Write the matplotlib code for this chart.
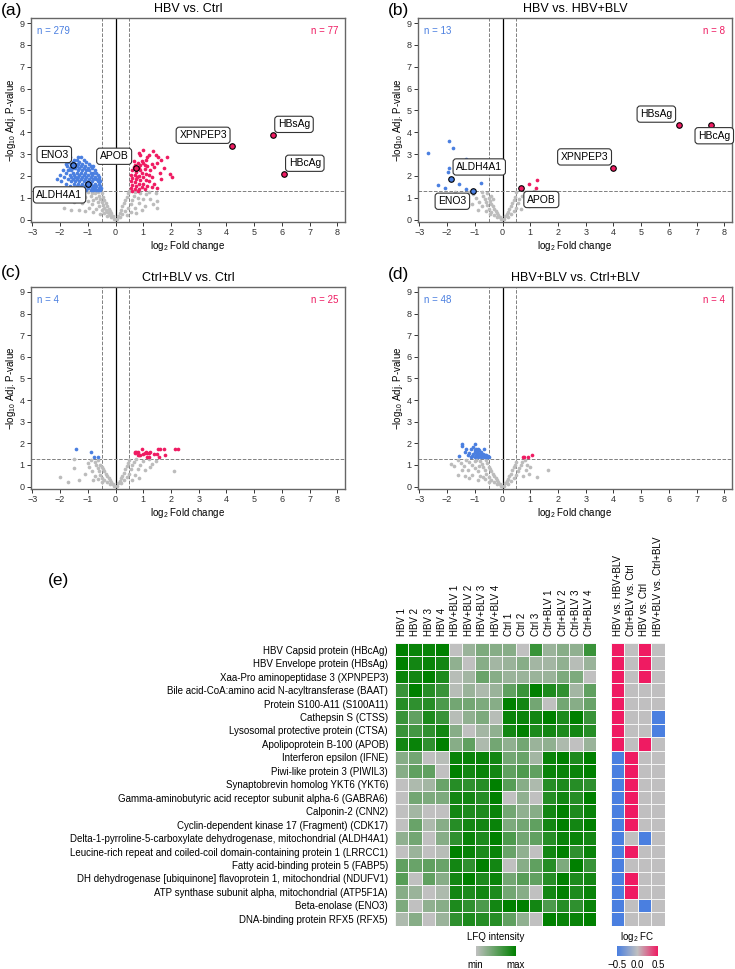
import matplotlib
matplotlib.use("Agg")
import matplotlib.pyplot as plt
import numpy as np
from matplotlib.colors import LinearSegmentedColormap

plt.rcParams['font.family'] = ['Liberation Sans', 'DejaVu Sans']
plt.rcParams['mathtext.default'] = 'regular'

# ---------------- data: volcano plots ----------------
grey_a = [(-0.05,0.05),(-0.1,0.15),(-0.15,0.3),(-0.2,0.4),(-0.25,0.5),(-0.3,0.6),(-0.35,0.75),(-0.4,0.9),(-0.45,1.05),(-0.5,1.2),
          (-0.15,0.1),(-0.2,0.2),(-0.25,0.3),(-0.3,0.35),(-0.35,0.45),(-0.4,0.55),(-0.45,0.65),(-0.5,0.8),(-0.55,0.95),(-0.6,1.1),
          (-0.3,0.15),(-0.4,0.3),(-0.5,0.45),(-0.6,0.6),(-0.65,0.8),(-0.7,1.0),(-0.75,1.2),(-0.8,0.9),(-0.9,1.1),(-1.0,1.25),
          (-0.7,0.5),(-0.85,0.7),(-1.0,0.85),(-1.1,1.05),(-1.2,1.2),(-1.3,1.15),(-1.5,1.25),(-1.4,1.0),(-1.2,0.75),(-0.95,0.55),
          (-1.6,0.45),(-1.3,0.45),(-1.85,0.55),(-1.1,0.4),(-0.55,0.25),(-1.7,1.2),(-0.85,1.2),(-0.65,1.25),(-0.8,0.35),(-1.5,0.8),
          (0.05,0.05),(0.1,0.15),(0.15,0.3),(0.2,0.45),(0.25,0.6),(0.3,0.75),(0.35,0.9),(0.4,1.05),(0.45,1.2),(0.5,1.3),
          (0.15,0.1),(0.25,0.25),(0.35,0.4),(0.45,0.55),(0.55,0.7),(0.6,0.9),(0.65,1.1),(0.7,1.25),(0.8,1.0),(0.9,1.2),
          (0.4,0.2),(0.55,0.35),(0.7,0.55),(0.85,0.75),(1.0,0.95),(1.1,1.15),(1.2,1.25),(0.95,0.45),(1.5,0.85),(1.35,0.7),
          (1.5,0.55),(1.25,0.95),(1.45,1.2),(0.75,0.3),(1.05,0.6)]
blue_a = [(-1.65,2.85),(-1.35,2.85),(-1.25,2.85),
          (-1.5,2.75),(-1.4,2.75),(-1.15,2.75),
          (-1.7,2.65),(-1.55,2.65),(-1.3,2.65),(-1.05,2.65),
          (-1.8,2.55),(-1.6,2.55),(-1.45,2.55),(-1.35,2.55),(-1.2,2.55),(-0.95,2.55),
          (-1.75,2.45),(-1.5,2.45),(-1.4,2.45),(-1.25,2.45),(-1.1,2.45),(-0.9,2.45),(-0.8,2.45),
          (-1.65,2.35),(-1.55,2.35),(-1.45,2.35),(-1.3,2.35),(-1.15,2.35),(-1.0,2.35),(-0.85,2.35),
          (-1.9,2.25),(-1.7,2.25),(-1.6,2.25),(-1.35,2.25),(-1.2,2.25),(-1.05,2.25),(-0.95,2.25),(-0.75,2.25),
          (-1.8,2.15),(-1.55,2.15),(-1.4,2.15),(-1.25,2.15),(-1.1,2.15),(-0.9,2.15),(-0.8,2.15),(-0.7,2.15),
          (-2.0,2.05),(-1.65,2.05),(-1.5,2.05),(-1.3,2.05),(-1.15,2.05),(-1.0,2.05),(-0.85,2.05),(-0.65,2.05),
          (-1.85,1.95),(-1.6,1.95),(-1.45,1.95),(-1.35,1.95),(-1.2,1.95),(-1.05,1.95),(-0.9,1.95),(-0.75,1.95),(-0.6,1.95),
          (-2.1,1.85),(-1.7,1.85),(-1.55,1.85),(-1.4,1.85),(-1.25,1.85),(-1.1,1.85),(-0.95,1.85),(-0.8,1.85),(-0.7,1.85),(-0.6,1.85),
          (-1.95,1.75),(-1.6,1.75),(-1.45,1.75),(-1.3,1.75),(-1.15,1.75),(-1.0,1.75),(-0.85,1.75),(-0.65,1.75),(-0.55,1.75),
          (-1.8,1.65),(-1.5,1.65),(-1.35,1.65),(-1.2,1.65),(-1.05,1.65),(-0.9,1.65),(-0.75,1.65),(-0.6,1.65),
          (-1.65,1.55),(-1.4,1.55),(-1.25,1.55),(-1.1,1.55),(-0.95,1.55),(-0.8,1.55),(-0.7,1.55),(-0.55,1.55),
          (-1.5,1.45),(-1.3,1.45),(-1.15,1.45),(-1.0,1.45),(-0.85,1.45),(-0.75,1.45),(-0.6,1.45),(-0.52,1.45),
          (-1.4,1.35),(-1.2,1.35),(-1.05,1.35),(-0.9,1.35),(-0.8,1.35),(-0.7,1.35),(-0.62,1.35),(-0.55,1.35)]
red_a = [(0.85,3.05),(1.0,3.2),(1.35,3.15),(0.9,2.95),(1.2,2.95),(1.55,2.85),(1.85,2.85),(1.65,2.75),(1.1,2.75),(0.95,2.7),
         (0.8,2.6),(1.0,2.6),(1.3,2.55),(1.5,2.6),(0.7,2.5),(0.9,2.5),(1.15,2.45),(1.4,2.4),(1.75,2.35),(0.65,2.4),
         (0.85,2.35),(1.05,2.3),(1.25,2.25),(0.6,2.25),(0.75,2.2),(0.95,2.15),(1.1,2.1),(1.6,2.15),(1.95,2.1),(2.05,1.95),
         (0.55,2.05),(0.7,2.05),(0.85,2.0),(1.0,1.95),(1.3,1.95),(1.65,1.85),(0.6,1.9),(0.75,1.85),(0.9,1.8),(1.1,1.8),
         (1.2,1.75),(0.55,1.75),(0.7,1.7),(0.85,1.65),(1.0,1.65),(1.4,1.65),(0.6,1.6),(0.75,1.55),(0.95,1.5),(1.15,1.55),
         (0.55,1.45),(0.7,1.4),(0.85,1.38),(1.05,1.4),(0.6,1.33),(0.8,1.32),(1.3,1.5),(1.5,1.45),(0.65,2.7),(1.45,2.95),
         (0.9,2.25),(1.2,2.05),(0.78,1.95),(1.05,2.5),(1.15,2.85)]
hl_a = {"ENO3": (-1.54, 2.51, "down"), "ALDH4A1": (-0.98, 1.64, "down"), "APOB": (0.75, 2.36, "up"),
        "XPNPEP3": (4.2, 3.38, "up"), "HBsAg": (5.69, 3.87, "up"), "HBcAg": (6.07, 2.11, "up")}

grey_b = [(-0.05,0.05),(-0.1,0.12),(-0.15,0.22),(-0.2,0.3),(-0.25,0.4),(-0.3,0.5),(-0.35,0.6),(-0.4,0.72),(-0.45,0.85),(-0.5,1.0),
          (-0.2,0.1),(-0.3,0.2),(-0.4,0.35),(-0.5,0.5),(-0.55,0.65),(-0.6,0.8),(-0.65,0.95),(-0.7,1.1),(-0.75,1.25),(-0.55,1.2),
          (-0.45,0.25),(-0.6,0.4),(-0.75,0.6),(-0.85,0.8),(-0.95,1.0),(-1.05,1.15),(-1.2,1.25),(-0.9,0.45),(-1.1,0.7),(-1.3,0.95),
          (-1.5,1.1),(-1.7,1.25),(-1.35,0.6),(-0.4,1.1),(-0.35,0.95),
          (0.05,0.05),(0.1,0.15),(0.15,0.25),(0.2,0.35),(0.25,0.5),(0.3,0.62),(0.35,0.75),(0.4,0.9),(0.45,1.05),(0.5,1.25),
          (0.2,0.1),(0.3,0.25),(0.4,0.4),(0.5,0.55),(0.55,0.75),(0.6,0.95),(0.7,1.1),(0.8,1.25),(0.65,0.5),(0.8,0.75),
          (0.9,0.95),(1.0,1.15),(1.15,1.3),(0.95,0.6),(1.15,0.95)]
blue_b = [(-2.68,3.06),(-1.93,3.61),(-1.78,3.26),(-1.32,2.78),(-1.92,2.36),(-1.95,2.16),(-1.56,1.64),(-1.32,1.41),
          (-0.76,1.67),(-2.32,1.57),(-2.08,1.45)]
red_b = [(0.95,1.65),(1.26,1.81),(1.19,1.45)]
hl_b = {"ALDH4A1": (-1.86, 1.85, "down"), "ENO3": (-1.06, 1.33, "down"), "APOB": (0.65, 1.45, "up"),
        "XPNPEP3": (3.98, 2.37, "up"), "HBsAg": (6.35, 4.33, "up"), "HBcAg": (7.52, 4.33, "up")}

grey_c = [(-0.05,0.05),(-0.1,0.12),(-0.15,0.22),(-0.2,0.3),(-0.25,0.4),(-0.3,0.5),(-0.35,0.6),(-0.4,0.7),(-0.45,0.8),(-0.5,0.9),
          (-0.2,0.1),(-0.3,0.2),(-0.4,0.3),(-0.5,0.4),(-0.55,0.55),(-0.6,0.7),(-0.65,0.85),(-0.7,1.0),(-0.75,1.15),(-0.55,1.0),
          (-0.5,0.2),(-0.65,0.35),(-0.75,0.5),(-0.85,0.7),(-0.95,0.9),(-1.0,1.1),(-0.9,1.25),(-0.8,0.3),(-1.1,0.6),(-2.0,0.45),
          (-1.7,0.2),(-1.3,0.3),(-1.5,0.85),(-1.5,1.3),(-0.65,1.25),
          (0.05,0.05),(0.1,0.15),(0.15,0.25),(0.2,0.4),(0.25,0.5),(0.3,0.65),(0.35,0.8),(0.4,0.95),(0.45,1.1),(0.5,1.25),
          (0.2,0.15),(0.3,0.3),(0.4,0.45),(0.5,0.6),(0.55,0.8),(0.6,1.0),(0.65,1.15),(0.75,1.3),(0.7,0.55),(0.8,0.8),
          (0.9,1.0),(1.0,1.2),(0.85,0.4),(1.05,0.75),(1.3,1.05),(1.25,0.9),(2.1,0.7),(1.2,1.28),(0.6,0.3),(1.45,1.2)]
blue_c = [(-1.41,1.76),(-0.88,1.61),(-0.79,1.35),(-0.64,1.35)]
red_c = [(0.70,1.60),(0.75,1.60),(0.80,1.60),(0.85,1.45),(0.80,1.45),(0.95,1.75),(1.00,1.52),(1.10,1.60),(1.15,1.55),
         (1.20,1.55),(1.15,1.35),(1.20,1.35),(1.50,1.52),(1.55,1.75),(1.60,1.75),(1.58,1.35),(1.75,1.75),(1.78,1.45),
         (2.15,1.75),(2.25,1.75),(0.72,1.55),(1.05,1.55),(1.25,1.58),(0.90,1.45),(1.40,1.50)]
hl_c = {}

grey_d = [(-0.05,0.05),(-0.1,0.12),(-0.15,0.2),(-0.2,0.3),(-0.25,0.4),(-0.3,0.5),(-0.35,0.6),(-0.4,0.7),(-0.45,0.8),(-0.5,0.9),
          (-0.2,0.1),(-0.3,0.2),(-0.4,0.3),(-0.5,0.45),(-0.6,0.6),(-0.65,0.75),(-0.7,0.9),(-0.75,1.05),(-0.8,1.2),(-0.55,1.1),
          (-0.5,0.2),(-0.65,0.35),(-0.8,0.5),(-0.9,0.7),(-1.0,0.85),(-1.1,1.0),(-1.2,1.15),(-1.3,1.25),(-0.9,0.3),(-1.1,0.55),
          (-1.25,0.75),(-1.4,0.95),(-1.5,1.1),(-1.6,1.25),(-1.85,1.05),(-1.75,0.95),(-1.6,0.55),(-1.35,0.5),(-0.95,1.25),(-0.6,1.25),
          (-1.2,0.4),(-1.45,0.75),(-0.85,0.95),(-1.0,1.2),(-0.7,0.45),
          (0.05,0.05),(0.1,0.15),(0.15,0.25),(0.2,0.35),(0.25,0.5),(0.3,0.6),(0.35,0.75),(0.4,0.9),(0.45,1.0),(0.5,1.15),
          (0.2,0.1),(0.3,0.25),(0.4,0.4),(0.5,0.55),(0.55,0.7),(0.6,0.85),(0.65,1.0),(0.7,1.15),(0.75,0.5),(0.85,0.75),
          (0.9,1.0),(0.95,0.6),(1.0,0.9),(1.65,0.78),(1.25,0.45),(0.8,1.25)]
blue_d = [(-1.48,1.99),(-1.45,1.87),(-1.06,1.84),(-1.0,1.95),(-1.3,1.76),(-1.12,1.76),(-0.88,1.76),(-0.67,1.76),(-0.95,1.72),
          (-1.36,1.61),(-0.84,1.68),(-0.76,1.61),(-0.88,1.53),(-1.57,1.41),(-1.09,1.41),(-0.82,1.45),(-0.73,1.45),(-0.64,1.45),
          (-0.58,1.45),(-0.48,1.38),(-1.2,1.55),(-1.0,1.6),(-0.92,1.62),(-1.25,1.45),(-0.95,1.45),(-0.7,1.52),(-0.6,1.38),
          (-0.55,1.35),(-0.68,1.38),(-0.78,1.35),(-0.9,1.38),(-1.0,1.35),(-1.15,1.35),(-0.85,1.4),(-0.62,1.4),(-0.52,1.42),
          (-0.75,1.4),(-1.05,1.5),(-0.98,1.68),(-0.8,1.55)]
red_d = [(0.73,1.35),(0.78,1.38),(0.92,1.35),(1.07,1.45)]
hl_d = {}

titles = ["HBV vs. Ctrl", "HBV vs. HBV+BLV", "Ctrl+BLV vs. Ctrl", "HBV+BLV vs. Ctrl+BLV"]
n_down = [279, 13, 4, 48]
n_up = [77, 8, 25, 4]

# ---------------- data: heatmaps ----------------
proteins = ["HBV Capsid protein (HBcAg)", "HBV Envelope protein (HBsAg)", "Xaa-Pro aminopeptidase 3 (XPNPEP3)",
            "Bile acid-CoA:amino acid N-acyltransferase (BAAT)", "Protein S100-A11 (S100A11)", "Cathepsin S (CTSS)",
            "Lysosomal protective protein (CTSA)", "Apolipoprotein B-100 (APOB)", "Interferon epsilon (IFNE)",
            "Piwi-like protein 3 (PIWIL3)", "Synaptobrevin homolog YKT6 (YKT6)",
            "Gamma-aminobutyric acid receptor subunit alpha-6 (GABRA6)", "Calponin-2 (CNN2)",
            "Cyclin-dependent kinase 17 (Fragment) (CDK17)",
            "Delta-1-pyrroline-5-carboxylate dehydrogenase, mitochondrial (ALDH4A1)",
            "Leucine-rich repeat and coiled-coil domain-containing protein 1 (LRRCC1)",
            "Fatty acid-binding protein 5 (FABP5)",
            "DH dehydrogenase [ubiquinone] flavoprotein 1, mitochondrial (NDUFV1)",
            "ATP synthase subunit alpha, mitochondrial (ATP5F1A)", "Beta-enolase (ENO3)", "DNA-binding protein RFX5 (RFX5)"]
samples = ["HBV 1", "HBV 2", "HBV 3", "HBV 4", "HBV+BLV 1", "HBV+BLV 2", "HBV+BLV 3", "HBV+BLV 4",
           "Ctrl 1", "Ctrl 2", "Ctrl 3", "Ctrl+BLV 1", "Ctrl+BLV 2", "Ctrl+BLV 3", "Ctrl+BLV 4"]
comparisons = ["HBV vs. HBV+BLV", "Ctrl+BLV vs. Ctrl", "HBV vs. Ctrl", "HBV+BLV vs. Ctrl+BLV"]
lfq = [
    [1.0,0.95,0.95,1.0, 0.0,0.2,0.35,0.3, 0.3,0.0,0.7, 0.2,0.3,0.25,0.7],
    [1.0,0.9,0.95,0.9, 0.25,0.0,0.3,0.15, 0.2,0.3,0.15, 0.15,0.25,0.05,0.2],
    [0.95,0.9,1.0,0.85, 0.05,0.15,0.45,0.3, 0.2,0.2,0.2, 0.2,0.35,0.35,0.0],
    [0.7,1.0,0.8,0.7, 0.05,0.2,0.1,0.2, 0.5,0.7,1.0, 0.85,0.75,0.15,0.5],
    [0.8,0.75,0.8,0.6, 0.4,0.4,0.35,0.3, 1.0,0.9,0.4, 0.0,0.4,0.3,0.45],
    [0.7,0.5,0.85,0.7, 0.05,0.25,0.35,0.05, 0.95,0.95,0.9, 1.0,0.85,1.0,0.7],
    [0.7,0.65,0.75,0.9, 0.3,0.0,0.15,0.25, 0.9,1.0,0.85, 0.9,0.85,0.9,0.8],
    [0.9,0.95,0.75,1.0, 0.3,0.5,0.1,0.4, 0.25,0.4,0.2, 0.25,0.1,0.0,0.2],
    [0.3,0.4,0.0,0.05, 0.95,0.95,0.95,0.9, 0.4,0.45,0.15, 0.95,1.0,0.85,1.0],
    [0.3,0.5,0.5,0.0, 1.0,0.9,0.95,0.9, 0.5,0.6,0.5, 0.95,0.95,0.95,1.0],
    [0.0,0.1,0.15,0.45, 0.8,0.75,0.8,1.0, 0.55,0.3,0.1, 0.8,0.85,0.8,0.75],
    [0.0,0.4,0.35,0.35, 0.9,0.9,0.8,1.0, 0.0,0.25,0.0, 0.8,0.9,0.8,1.0],
    [0.0,0.15,0.0,0.0, 0.9,0.85,0.85,0.95, 0.4,0.25,0.3, 0.9,1.0,0.85,0.95],
    [0.0,0.45,0.1,0.3, 0.8,0.9,0.9,0.95, 0.35,0.4,0.5, 0.9,1.0,0.9,1.0],
    [0.25,0.4,0.0,0.3, 0.75,0.95,0.85,1.0, 0.6,0.4,0.5, 0.8,0.95,0.95,0.9],
    [0.0,0.2,0.0,0.05, 1.0,0.95,0.85,0.95, 0.45,0.25,0.0, 0.9,1.0,0.75,0.95],
    [0.5,0.45,0.5,0.45, 0.9,0.75,1.0,0.9, 0.0,0.3,0.5, 0.8,0.35,1.0,0.7],
    [0.55,0.0,0.5,0.3, 0.9,1.0,0.85,0.95, 0.4,0.55,0.5, 0.8,1.0,0.85,0.9],
    [0.3,0.2,0.0,0.1, 0.9,0.85,0.9,0.85, 0.4,0.3,0.0, 0.9,1.0,0.85,0.95],
    [0.35,0.0,0.25,0.3, 0.85,0.75,0.6,0.9, 1.0,1.0,0.9, 0.6,0.8,0.75,0.95],
    [0.1,0.3,0.0,0.2, 0.75,0.85,0.8,0.8, 0.5,0.25,0.0, 1.0,0.95,0.95,1.0],
]
log2fc = [
    [0.5,0,0.5,0],[0.5,0,0.5,0],[0.5,0,0.5,0],[0.5,0,0,0],[0.5,0,0,0],[0.5,0,0,-0.5],[0.5,0,0,-0.5],[0.5,0,0.5,0],
    [-0.5,0.5,0,0],[-0.5,0.5,0,0],[-0.5,0.5,0,0],[-0.5,0.5,0,0],[-0.5,0.5,0,0],[-0.5,0.5,0,0],[-0.5,0,-0.5,0],
    [-0.5,0.5,0,0],[-0.5,0,0,0],[-0.5,0.5,0,0],[-0.5,0.5,0,0],[-0.5,0,-0.5,0],[-0.5,0,0,0]]

# ---------------- styles ----------------
BLUE = "#4a7fe0"
RED = "#ef1b62"
GREY = "#bcbcbc"
SILVER = "#c0c0c0"
GREEN = "#008000"
W, H = 735, 969

fig = plt.figure(figsize=(W / 100, H / 100), dpi=100)


def add_ax(l, t, r, b):
    return fig.add_axes([l / W, 1 - b / H, (r - l) / W, (b - t) / H])


label_pos = [
    {"ENO3": (-2.21, 2.98), "ALDH4A1": (-2.02, 1.13), "APOB": (-0.05, 2.9),
     "XPNPEP3": (3.16, 3.86), "HBsAg": (6.44, 4.36), "HBcAg": (6.83, 2.58)},
    {"ALDH4A1": (-0.84, 2.41), "ENO3": (-1.81, 0.84), "APOB": (1.40, 0.92),
     "XPNPEP3": (2.96, 2.87), "HBsAg": (5.55, 4.83), "HBcAg": (7.64, 3.84)},
    {}, {}]

panels = [(grey_a, blue_a, red_a, hl_a), (grey_b, blue_b, red_b, hl_b),
          (grey_c, blue_c, red_c, hl_c), (grey_d, blue_d, red_d, hl_d)]
boxes = [(31, 18, 345, 222), (418, 18, 732, 222), (31, 287, 345, 489), (418, 287, 732, 489)]
letters = ["(a)", "(b)", "(c)", "(d)"]
letter_pos = [(1, 10), (388, 10), (1, 272), (388, 275)]

for i, (grey, blue, red, hl) in enumerate(panels):
    ax = add_ax(*boxes[i])
    gx, gy = zip(*grey)
    ax.scatter(gx, gy, s=7, c=GREY, lw=0, zorder=2)
    bx, by = zip(*blue)
    ax.scatter(bx, by, s=7, c=BLUE, lw=0, zorder=3)
    rx, ry = zip(*red)
    ax.scatter(rx, ry, s=7, c=RED, lw=0, zorder=3)
    for name, (x, y, d) in hl.items():
        ax.scatter([x], [y], s=16, c=BLUE if d == "down" else RED, edgecolors="black", lw=0.8, zorder=5)
        lx, ly = label_pos[i][name]
        ax.text(lx, ly, name, fontsize=7.5, ha="center", va="center", zorder=6,
                bbox=dict(boxstyle="round,pad=0.3", fc="white", ec="#333333", lw=0.8))
    ax.axvline(0, color="black", lw=0.9, zorder=1)
    for xv in (-0.5, 0.5):
        ax.axvline(xv, color="#808080", lw=0.7, ls="--", zorder=1)
    ax.axhline(1.3, color="#808080", lw=0.7, ls="--", zorder=1)
    ax.set_xlim(-3.05, 8.28)
    ax.set_ylim(-0.11, 9.23)
    ax.set_xticks(range(-3, 9))
    ax.set_yticks(range(0, 10))
    ax.tick_params(labelsize=6.5, length=3, width=0.7, colors="#333333", pad=1.5)
    for sp in ax.spines.values():
        sp.set_color("#666666")
        sp.set_linewidth(1.0)
    ax.set_xlabel("log$_2$ Fold change", fontsize=7, labelpad=1.5)
    ax.set_ylabel("\u2212log$_{10}$ Adj. P-value", fontsize=7, labelpad=1)
    ax.set_title(titles[i], fontsize=9, pad=4)
    ax.text(0.018, 0.935, f"n = {n_down[i]}", transform=ax.transAxes, color=BLUE, fontsize=7, ha="left", va="center")
    ax.text(0.978, 0.935, f"n = {n_up[i]}", transform=ax.transAxes, color=RED, fontsize=7, ha="right", va="center")
    lx, ly = letter_pos[i]
    fig.text(lx / W, 1 - ly / H, letters[i], fontsize=12.5, ha="left", va="center")

fig.text(48 / W, 1 - 580 / H, "(e)", fontsize=12.5, ha="left", va="center")

# ---------------- heatmaps ----------------
cmap_lfq = LinearSegmentedColormap.from_list("lfq", [SILVER, GREEN])
cmap_fc = LinearSegmentedColormap.from_list("fc", [BLUE, SILVER, RED])

axh = add_ax(395, 643, 596, 925.5)
axh.pcolormesh(np.array(lfq), cmap=cmap_lfq, vmin=0, vmax=1, edgecolors="#f4f4f4", linewidth=0.6)
axh.set_xlim(0, len(samples))
axh.set_ylim(len(proteins), 0)
axh.set_xticks(np.arange(len(samples)) + 0.5)
axh.set_xticklabels(samples, rotation=90, fontsize=7)
axh.set_yticks(np.arange(len(proteins)) + 0.5)
axh.set_yticklabels(proteins, fontsize=7)
axh.tick_params(top=True, labeltop=True, bottom=False, labelbottom=False, length=0, pad=5)
for sp in axh.spines.values():
    sp.set_visible(False)

axf = add_ax(611, 643, 664.5, 925.5)
axf.pcolormesh(np.array(log2fc), cmap=cmap_fc, vmin=-0.5, vmax=0.5, edgecolors="#f4f4f4", linewidth=0.6)
axf.set_xlim(0, len(comparisons))
axf.set_ylim(len(proteins), 0)
axf.set_xticks(np.arange(len(comparisons)) + 0.5)
axf.set_xticklabels(comparisons, rotation=90, fontsize=7)
axf.set_yticks([])
axf.tick_params(top=True, labeltop=True, bottom=False, labelbottom=False, length=0, pad=5)
for sp in axf.spines.values():
    sp.set_visible(False)

# colorbars
grad = np.linspace(0, 1, 256)[None, :]
cb1 = add_ax(476, 946, 516, 956)
cb1.imshow(grad, cmap=cmap_lfq, aspect="auto", extent=[0, 1, 0, 1])
cb1.set_xticks([]); cb1.set_yticks([])
for sp in cb1.spines.values():
    sp.set_visible(False)
fig.text(496 / W, 1 - 937 / H, "LFQ intensity", fontsize=7, ha="center", va="center")
fig.text(475 / W, 1 - 965 / H, "min", fontsize=7, ha="center", va="center")
fig.text(516 / W, 1 - 965 / H, "max", fontsize=7, ha="center", va="center")

cb2 = add_ax(617, 946, 658, 956)
cb2.imshow(np.linspace(-0.5, 0.5, 256)[None, :], cmap=cmap_fc, aspect="auto", extent=[-0.5, 0.5, 0, 1])
cb2.set_xticks([]); cb2.set_yticks([])
for sp in cb2.spines.values():
    sp.set_visible(False)
fig.text(637.5 / W, 1 - 937 / H, "log$_2$ FC", fontsize=7, ha="center", va="center")
for v, xp in zip([-0.5, 0.0, 0.5], [617, 637.5, 658]):
    fig.text(xp / W, 1 - 965 / H, f"{v:.1f}".replace("-", "\u2212"), fontsize=7, ha="center", va="center")

fig.savefig("out.png", dpi=100)
